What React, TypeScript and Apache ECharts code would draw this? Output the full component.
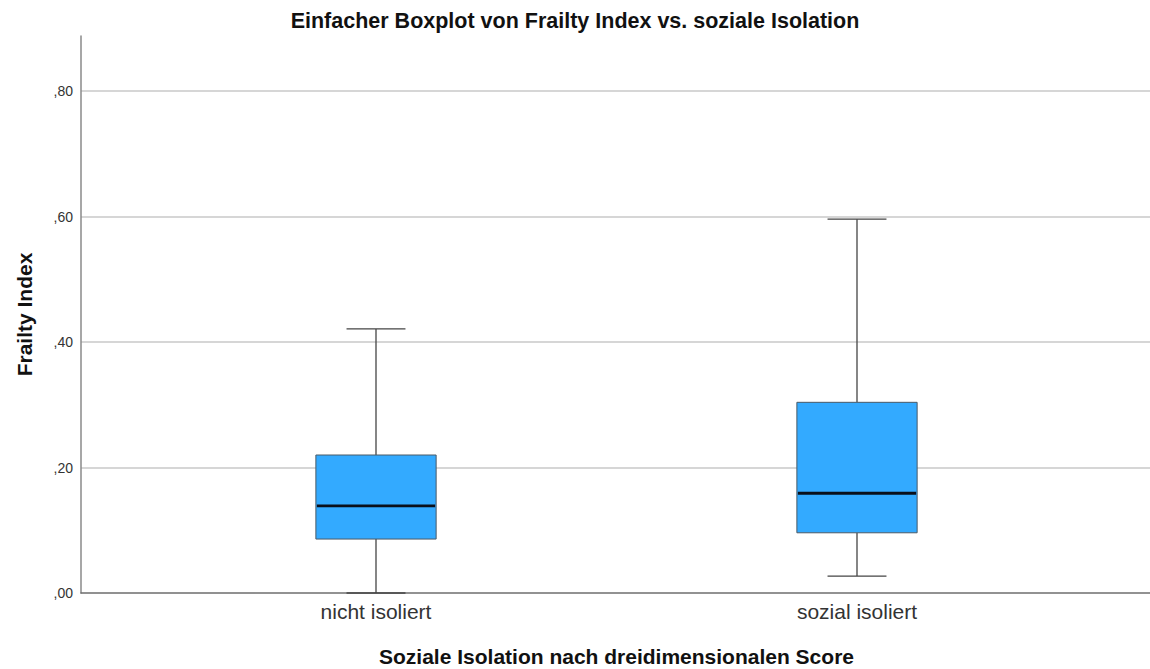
import React, { useEffect, useRef } from "react";
import * as echarts from "echarts";

const categories = ["nicht isoliert", "sozial isoliert"];
// [min, Q1, median, Q3, max]
const boxStats = [
  [0.0, 0.086, 0.139, 0.22, 0.421],
  [0.027, 0.096, 0.159, 0.304, 0.596],
];
const yTicks = [0, 0.2, 0.4, 0.6, 0.8];
const yMax = 0.888;

const FONT = "Arial, 'Liberation Sans', sans-serif";

export default function App() {
  const ref = useRef<HTMLDivElement>(null);
  useEffect(() => {
    document.body.style.margin = "0";
    const chart = echarts.init(ref.current!, null, { renderer: "svg" });
    const fmt = (v: number) => {
      const match = yTicks.find((t) => Math.abs(t - v) < 1e-6);
      if (match === undefined) return "";
      return "," + Math.round(match * 100).toString().padStart(2, "0");
    };
    chart.setOption({
      animation: false,
      backgroundColor: "#ffffff",
      title: {
        text: "Einfacher Boxplot von Frailty Index vs. soziale Isolation",
        left: "center",
        top: 5,
        textStyle: { fontFamily: FONT, fontSize: 21.5, fontWeight: "bold", color: "#111" },
      },
      grid: [
        { left: 81, right: 0, top: 36, bottom: 76, outerBoundsMode: "none", containLabel: false },
        { left: 135.5, width: 962, top: 36, bottom: 76, outerBoundsMode: "none", containLabel: false },
      ],
      xAxis: [
        {
          gridIndex: 0,
          type: "value",
          min: 0,
          max: 1,
          axisLine: { show: true, onZero: false, lineStyle: { color: "#6e6e6e", width: 1.5 } },
          axisTick: { show: false },
          axisLabel: { show: false },
          splitLine: { show: false },
        },
        {
          gridIndex: 1,
          type: "category",
          data: categories,
          axisLine: { show: false },
          axisTick: { show: false },
          axisLabel: { margin: 8, fontFamily: FONT, fontSize: 21, color: "#333" },
          name: "Soziale Isolation nach dreidimensionalen Score",
          nameLocation: "middle",
          nameGap: 53,
          nameTextStyle: { fontFamily: FONT, fontSize: 21, fontWeight: "bold", color: "#111" },
        },
      ],
      yAxis: [
        {
          gridIndex: 0,
          type: "value",
          min: 0,
          max: yMax,
          interval: 0.2,
          axisLine: { show: true, lineStyle: { color: "#8a8a8a", width: 1.5 } },
          axisTick: { show: false },
          axisLabel: { formatter: fmt, fontFamily: FONT, fontSize: 14, color: "#333", margin: 8, showMaxLabel: false },
          splitLine: { show: true, showMinLine: false, showMaxLine: false, lineStyle: { color: "#c8c8c8", width: 1.5 } },
          name: "Frailty Index",
          nameLocation: "middle",
          nameGap: 46,
          nameTextStyle: { fontFamily: FONT, fontSize: 21, fontWeight: "bold", color: "#111" },
        },
        {
          gridIndex: 1,
          type: "value",
          min: 0,
          max: yMax,
          show: false,
        },
      ],
      series: [
        {
          type: "custom",
          xAxisIndex: 1,
          yAxisIndex: 1,
          encode: { x: 0, y: [1, 2, 3, 4, 5] },
          data: boxStats.map((s, i) => [i, ...s]),
          renderItem: (params: any, api: any) => {
            const idx = api.value(0);
            const band = api.size([1, 0])[0];
            const bw = band * 0.25;
            const cw = bw * 0.49;
            const pMin = api.coord([idx, api.value(1)]);
            const pQ1 = api.coord([idx, api.value(2)]);
            const pMed = api.coord([idx, api.value(3)]);
            const pQ3 = api.coord([idx, api.value(4)]);
            const pMax = api.coord([idx, api.value(5)]);
            const x = pMed[0];
            const lineStyle = { stroke: "#444", lineWidth: 1.3 };
            return {
              type: "group",
              children: [
                { type: "line", shape: { x1: x, y1: pMax[1], x2: x, y2: pQ3[1] }, style: lineStyle },
                { type: "line", shape: { x1: x, y1: pQ1[1], x2: x, y2: pMin[1] }, style: lineStyle },
                { type: "line", shape: { x1: x - cw / 2, y1: pMax[1], x2: x + cw / 2, y2: pMax[1] }, style: lineStyle },
                { type: "line", shape: { x1: x - cw / 2, y1: pMin[1], x2: x + cw / 2, y2: pMin[1] }, style: lineStyle },
                {
                  type: "rect",
                  shape: { x: x - bw / 2, y: pQ3[1], width: bw, height: pQ1[1] - pQ3[1] },
                  style: { fill: "#33aaff", stroke: "#4a5a66", lineWidth: 1 },
                },
                {
                  type: "line",
                  shape: { x1: x - bw / 2 + 1, y1: pMed[1], x2: x + bw / 2 - 1, y2: pMed[1] },
                  style: { stroke: "#0a0f1a", lineWidth: 2.8 },
                },
              ],
            };
          },
        },
      ],
    });
    return () => chart.dispose();
  }, []);
  return <div ref={ref} style={{ width: 1150, height: 669 }} />;
}
